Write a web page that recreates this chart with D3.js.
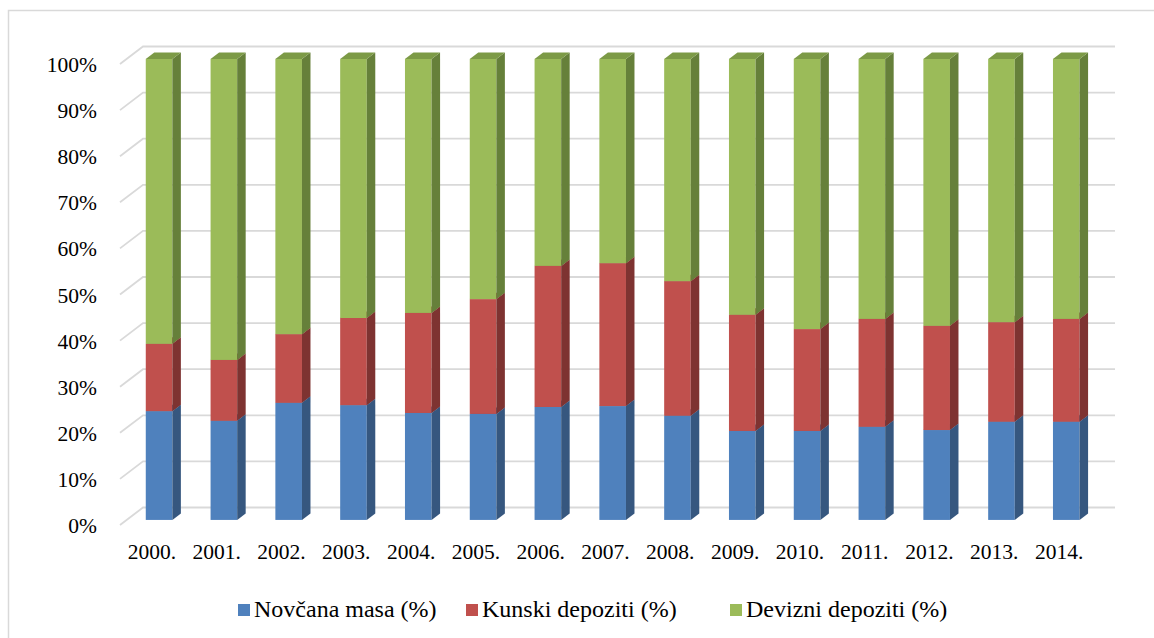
<!DOCTYPE html>
<html><head><meta charset="utf-8"><script src="https://cdn.jsdelivr.net/npm/d3@7"></script></head>
<body style="margin:0">
<svg id="chart" width="1154" height="638"></svg>
<script>
// ---------- Data ----------
const years = ["2000.", "2001.", "2002.", "2003.", "2004.", "2005.", "2006.", "2007.",
               "2008.", "2009.", "2010.", "2011.", "2012.", "2013.", "2014."];
const novcana = [23.6, 21.5, 25.4, 24.9, 23.2, 23.0, 24.5, 24.7, 22.6, 19.3, 19.3, 20.2, 19.5, 21.3, 21.3];
const kunski  = [14.6, 13.2, 14.9, 18.9, 21.7, 24.9, 30.6, 31.0, 29.2, 25.2, 22.1, 23.4, 22.6, 21.6, 22.3];
const devizni = [61.8, 65.3, 59.7, 56.2, 55.1, 52.1, 44.9, 44.3, 48.2, 55.5, 58.6, 56.4, 57.9, 57.1, 56.4];
const seriesNames = ["Novčana masa (%)", "Kunski depoziti (%)", "Devizni depoziti (%)"];
const yTicks = [0, 10, 20, 30, 40, 50, 60, 70, 80, 90, 100];

const frontCol = ["#4F81BD", "#C0504D", "#9BBB59"];
const sideCol  = ["#36577F", "#7E3331", "#66803A"];
const topCol   = ["#3F6899", "#9A403E", "#7C9A46"];

// ---------- Layout ----------
const svg = d3.select("#chart");
const depth = { dx: 23, dy: -17.5 };   // floor depth
const barFront = 0.29, barDepth = 0.37; // fractions of floor depth

const x = d3.scaleBand().domain(years).range([120, 1092]);
const y = d3.scaleLinear().domain([0, 100]).range([525, 64]);

svg.append("rect")
  .attr("x", 8.5).attr("y", 10.5).attr("width", 1160).attr("height", 650)
  .attr("fill", "none").attr("stroke", "#d9d9d9").attr("stroke-width", 1.5);

// ---------- Grid ----------
const grid = svg.append("g");
yTicks.forEach(t => {
  const x0 = x.range()[0], y0 = y(t);
  grid.append("polyline")
    .attr("points", `${x0},${y0} ${x0 + depth.dx},${y0 + depth.dy} ${x.range()[1] + depth.dx},${y0 + depth.dy}`)
    .attr("fill", "none").attr("stroke", "#d9d9d9").attr("stroke-width", 1.8);
});

svg.selectAll("text.ylab")
  .data(yTicks).join("text")
  .attr("class", "ylab")
  .attr("x", 97).attr("y", d => y(d) + 8)
  .attr("text-anchor", "end")
  .style("font-family", "'Liberation Serif'").attr("font-size", 21.5)
  .text(d => d + "%");

// ---------- Bars ----------
const rows = years.map((yr, i) => ({ year: yr, s0: novcana[i], s1: kunski[i], s2: devizni[i] }));
const stacked = d3.stack().keys(["s0", "s1", "s2"])(rows);

const barW = 26.6;
const fdx = depth.dx * barFront, fdy = depth.dy * barFront;
const sdx = depth.dx * barDepth, sdy = depth.dy * barDepth;

const bars = svg.append("g");
years.forEach((yr, i) => {
  const bx = x(yr) + (x.bandwidth() - barW) / 2 + fdx;
  stacked.forEach((layer, k) => {
    const [v0, v1] = layer[i];
    const yb = y(v0) + fdy, yt = y(v1) + fdy;
    const g = bars.append("g");
    g.append("rect")
      .attr("x", bx).attr("y", yt).attr("width", barW).attr("height", yb - yt)
      .attr("fill", frontCol[k]);
    g.append("polygon")
      .attr("points", `${bx + barW},${yb} ${bx + barW + sdx},${yb + sdy} ${bx + barW + sdx},${yt + sdy} ${bx + barW},${yt}`)
      .attr("fill", sideCol[k]);
    g.append("polygon")
      .attr("points", `${bx},${yt} ${bx + sdx},${yt + sdy} ${bx + barW + sdx},${yt + sdy} ${bx + barW},${yt}`)
      .attr("fill", topCol[k]);
  });
});

// ---------- X labels ----------
svg.selectAll("text.xlab")
  .data(years).join("text")
  .attr("class", "xlab")
  .attr("x", d => x(d) + x.bandwidth() / 2 - 0.5).attr("y", 559)
  .attr("text-anchor", "middle")
  .style("font-family", "'Liberation Serif'").attr("font-size", 21.5)
  .text(d => d);

// ---------- Legend ----------
const legendX = [238, 466, 730];
seriesNames.forEach((name, k) => {
  svg.append("rect")
    .attr("x", legendX[k]).attr("y", 604).attr("width", 12).attr("height", 12)
    .attr("fill", frontCol[k]);
  svg.append("text")
    .attr("x", legendX[k] + 16).attr("y", 617)
    .style("font-family", "'Liberation Serif'").attr("font-size", 24)
    .text(name);
});
</script></body></html>
